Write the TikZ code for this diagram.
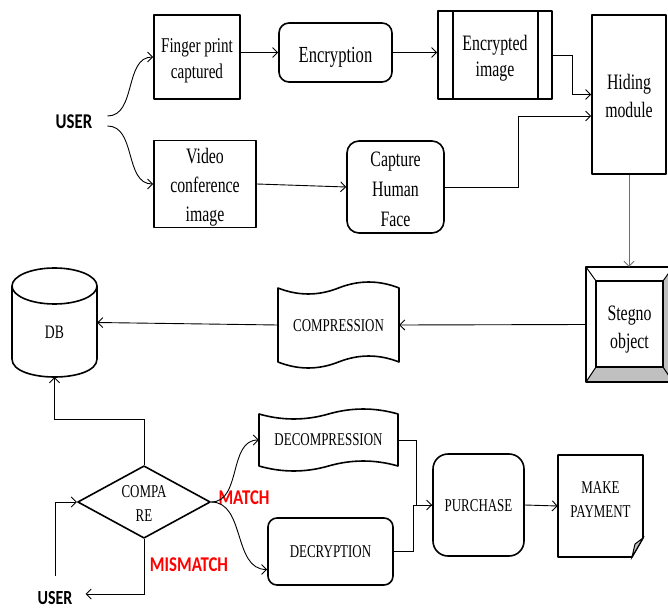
\documentclass[tikz,border=0pt]{standalone}
\usepackage{fontspec}
\setmainfont{Liberation Serif}[FakeStretch=0.72]
\newfontfamily\cfont{Carlito}[FakeStretch=0.8]
\usetikzlibrary{arrows.meta,shapes.geometric,calc}
\definecolor{lblred}{RGB}{255,0,0}
\definecolor{bevelgray}{RGB}{192,192,192}
\definecolor{linegray}{RGB}{110,110,110}
\newcommand\fsz[2]{\fontsize{#1}{#2}\selectfont}
\newcommand\dn[2]{\raisebox{-#1}[\height][\depth]{\begin{tabular}{@{}c@{}}#2\end{tabular}}}
\newcommand\tapeoutline[5]{%
 \draw[shapeline] (#1,#3) .. controls ({#1+(#2-#1)/6},{#3+1.33*#5}) and ({#1+(#2-#1)/3},{#3+1.33*#5}) .. ({(#1+#2)/2},#3)
   .. controls ({#1+2*(#2-#1)/3},{#3-1.33*#5}) and ({#1+5*(#2-#1)/6},{#3-1.33*#5}) .. (#2,#3)
   -- (#2,#4) .. controls ({#1+5*(#2-#1)/6},{#4-1.33*#5}) and ({#1+2*(#2-#1)/3},{#4-1.33*#5}) .. ({(#1+#2)/2},#4)
   .. controls ({#1+(#2-#1)/3},{#4+1.33*#5}) and ({#1+(#2-#1)/6},{#4+1.33*#5}) .. (#1,#4) -- cycle;}
\begin{document}
\begin{tikzpicture}[x=1pt,y=-1pt,
  shapeline/.style={line width=1.6pt, line join=round},
  box/.style={draw, shapeline, align=center, inner sep=0pt},
  rbox/.style={box, rounded corners=#1},
  ghost/.style={align=center, inner sep=0pt},
  conn/.style={line width=0.9pt, -{Straight Barb[length=5pt,width=10pt]}},
  plain/.style={line width=0.9pt},
  usr/.style={font=\cfont\bfseries\fsz{21}{24}},
  redlbl/.style={font=\cfont\bfseries\fsz{21}{24}, text=lblred, inner sep=0pt},
]
\fill[white] (0,0) rectangle (668,609);
\useasboundingbox (0,0) rectangle (668,609);

% top row
\node[box, minimum width=86pt, minimum height=84pt, font=\fsz{21}{26}] (finger) at (197,57) {\dn{3pt}{Finger print\\captured}};
\node[rbox=10pt, minimum width=113pt, minimum height=59pt, font=\fsz{23}{28}] (encr) at (335.5,52.5) {\dn{4pt}{Encryption}};
\node[box, minimum width=114pt, minimum height=88pt, font=\fsz{22}{26}] (encimg) at (495,55) {\dn{3pt}{Encrypted\\image}};
\draw[shapeline] (453,11) -- (453,99) (538,11) -- (538,99);
\node[box, minimum width=74pt, minimum height=159pt, font=\fsz{22}{28}] (hiding) at (629,94.5) {\dn{3pt}{Hiding\\module}};
\node[box, minimum width=102pt, minimum height=86pt, font=\fsz{22}{29}] (video) at (205,184) {\dn{3pt}{Video\\conference\\image}};
\node[rbox=12pt, minimum width=97pt, minimum height=92pt, font=\fsz{22}{30}] (face) at (395.5,187) {\dn{4pt}{Capture\\Human\\Face}};

% stegno bevel
\fill[white] (586,267) -- (673,267) -- (663,281) -- (596,281) -- cycle;
\fill[white] (586,267) -- (596,281) -- (596,367) -- (586,382) -- cycle;
\fill[bevelgray] (586,382) -- (596,367) -- (663,367) -- (673,382) -- cycle;
\fill[bevelgray] (673,267) -- (663,281) -- (663,367) -- (673,382) -- cycle;
\draw[shapeline] (586,267) rectangle (673,382);
\draw[shapeline] (596,281) rectangle (663,367);
\draw[line width=1pt] (586,267)--(596,281) (673,267)--(663,281) (586,382)--(596,367) (673,382)--(663,367);
\node[ghost, minimum width=87pt, minimum height=115pt, font=\fsz{22}{28}] (stegno) at (629.5,324.5) {\dn{4pt}{Stegno\\object}};

% DB cylinder
\draw[shapeline, fill=white] (12,286) -- (12,359) .. controls (12,383) and (97,383) .. (97,359) -- (97,286);
\draw[shapeline] (54.5,286) ellipse [x radius=42.5, y radius=18];
\node[ghost, minimum width=85pt, minimum height=109pt] (db) at (54.5,322.5) {};
\node[ghost, font=\fsz{19}{22}] (dblabel) at (54.5,332) {DB};

% tapes
\tapeoutline{278}{399}{288}{362}{6}
\node[ghost, minimum width=121pt, minimum height=74pt, font=\fsz{18}{22}] (compress) at (338.5,325) {\dn{2pt}{COMPRESSION}};
\tapeoutline{259}{398}{414}{466}{5}
\node[ghost, minimum width=139pt, minimum height=52pt, font=\fsz{18}{22}] (decompress) at (328.5,440) {DECOMPRESSION};

\node[rbox=9pt, minimum width=125pt, minimum height=67pt, font=\fsz{18}{22}] (decrypt) at (330.5,551.5) {DECRYPTION};
\node[diamond, draw, shapeline, inner sep=0pt, minimum width=126pt, minimum height=69pt, aspect=1.83, font=\fsz{18}{24}] (compare) at (144,502) {\dn{3pt}{COMPA\\RE}};
\node[rbox=15pt, minimum width=91pt, minimum height=102pt, font=\fsz{18}{22}] (purchase) at (478.5,505) {\dn{2pt}{PURCHASE}};

% make payment (dog ear)
\draw[shapeline] (558,455) -- (643,455) -- (643,538) -- (632,557) -- (558,557) -- cycle;
\draw[line width=1pt, fill=bevelgray] (643,538) -- (632,557) -- (635,544) -- cycle;
\node[ghost, minimum width=85pt, minimum height=102pt] (payment) at (600.5,506) {};
\node[ghost, font=\fsz{18}{24}] (paytext) at (600.5,500) {MAKE\\PAYMENT};

% labels
\node[usr, inner xsep=15pt, inner ysep=2pt] (user) at (74,122) {USER};
\node[usr, font=\cfont\bfseries\fsz{20}{22}, inner xsep=13pt, inner ysep=15pt] (user2) at (55,598) {USER};
\node[redlbl] (match) at (244,498) {MATCH};
\node[redlbl] (mismatch) at (189,565) {MISMATCH};

% connectors
\draw[conn] ([yshift=6pt]user.east) to[out=0,in=180] (finger.west);
\draw[conn] ([yshift=-4pt]user.east) to[out=0,in=180] (video.west);
\draw[conn] (finger.east |- encr.west) -- (encr.west);
\draw[conn] (encr.east) -- (encimg.west |- encr.east);
\draw[conn] (encimg.east) -- ++(20,0) |- (hiding.west);
\draw[conn] (face.east) -- ++(74,0) |- ($(hiding.west)+(0,21.5)$);
\draw[conn] (video.east) -- (face.west);
\draw[conn, linegray] (hiding.south) -- (hiding.south |- stegno.north);
\draw[conn] (stegno.west) -- (compress.east);
\draw[conn] (compress.west) -- (db.east);
\draw[conn] (compare.north) -- ++(0,-45) -| (db.south);
\draw[conn] (user2.north) |- (compare.west);
\draw[conn] (compare.south) |- ([yshift=4pt]user2.east);
\draw[conn] (compare.east) to[out=0,in=180] (decompress.west);
\draw[conn] (compare.east) to[out=0,in=180] ($(decrypt.west)+(0,18)$);
\draw[conn] (decompress.east) -- ++(18,0) |- (purchase.west);
\draw[plain] (decrypt.east) -- ++(20,0) |- (purchase.west);
\draw[conn] (purchase.east) -- (payment.west);
\end{tikzpicture}
\end{document}
